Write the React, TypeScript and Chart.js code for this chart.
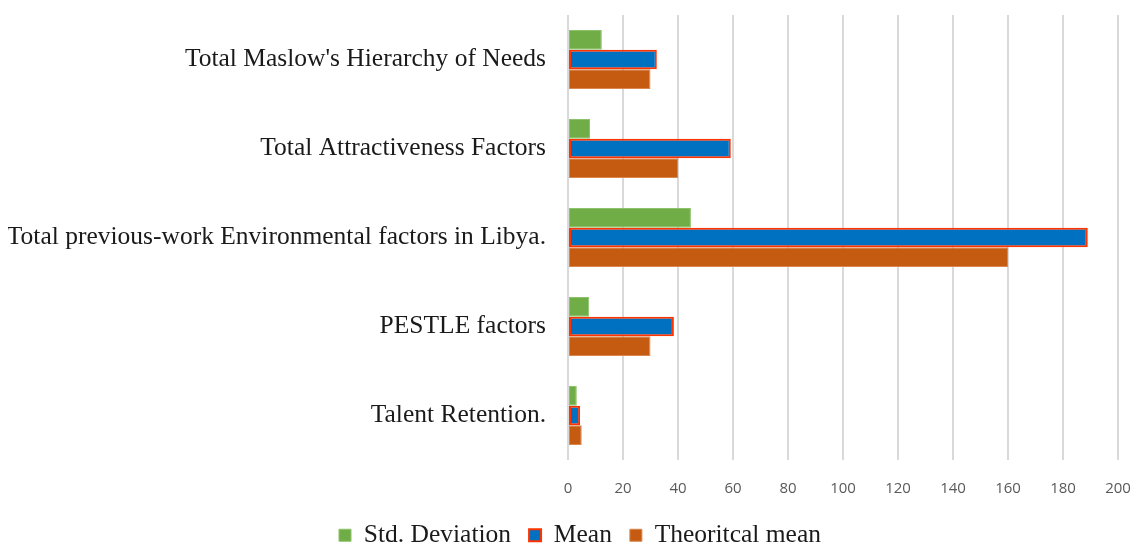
import React, { useEffect, useRef } from "react";
import { Chart, registerables } from "chart.js";

Chart.register(...registerables);

const categories = [
  "Total Maslow's Hierarchy of Needs",
  "Total Attractiveness Factors",
  "Total previous-work Environmental factors in Libya.",
  "PESTLE factors",
  "Talent Retention.",
];
const stdDeviation = [12.3, 8, 44.7, 7.7, 3.2];
const meanValues = [32.3, 59.2, 189, 38.5, 4.4];
const theoreticalMean = [30, 40, 160, 30, 5];
const xTicks = [0, 20, 40, 60, 80, 100, 120, 140, 160, 180, 200];

const shiftLegend = {
  id: "shiftLegend",
  afterLayout(chart: any) {
    if (chart.legend) chart.legend.left += 34;
  },
};

export default function App() {
  const ref = useRef<HTMLCanvasElement>(null);
  useEffect(() => {
    if (!ref.current) return;
    const chart = new Chart(ref.current, {
      type: "bar",
      data: {
        labels: categories,
        datasets: [
          {
            label: "Std. Deviation",
            data: stdDeviation,
            backgroundColor: "#70AD47",
            borderColor: "#8CC26A",
            borderWidth: 1,
          },
          {
            label: "Mean",
            data: meanValues,
            backgroundColor: "#0070C0",
            borderColor: "#FF3300",
            borderWidth: 2,
          },
          {
            label: "Theoritcal mean",
            data: theoreticalMean,
            backgroundColor: "#C55A11",
            borderColor: "#D9874F",
            borderWidth: 1,
          },
        ],
      },
      plugins: [shiftLegend],
      options: {
        indexAxis: "y",
        responsive: false,
        animation: false,
        devicePixelRatio: 1,
        layout: { padding: { top: 7, right: 15, left: 0, bottom: 0 } },
        datasets: {
          bar: { categoryPercentage: 0.665, barPercentage: 1, borderSkipped: false },
        },
        plugins: {
          tooltip: { enabled: false },
          legend: {
            position: "bottom",
            labels: {
              font: { family: "Liberation Serif", size: 25.5 },
              color: "#1a1a1a",
              boxWidth: 12,
              boxHeight: 12,
              padding: 18,
            },
          },
        },
        scales: {
          x: {
            min: 0,
            max: 200,
            afterBuildTicks: (scale: any) => {
              scale.ticks = xTicks.map((v) => ({ value: v }));
            },
            afterFit: (scale: any) => {
              scale.height = 44.5;
              scale.paddingLeft = 0;
              scale.paddingRight = 0;
              scale.paddingTop = 0;
              scale.paddingBottom = 0;
            },
            grid: { color: "#D9D9D9", lineWidth: 2, drawTicks: false },
            border: { display: false },
            ticks: {
              padding: 20,
              color: "#595959",
              font: { family: "Open Sans", size: 15 },
            },
          },
          y: {
            afterFit: (scale: any) => {
              scale.width = 560;
              scale.paddingLeft = 0;
              scale.paddingRight = 0;
              scale.paddingTop = 0;
              scale.paddingBottom = 0;
            },
            grid: { display: false, drawTicks: false },
            border: { display: false },
            ticks: {
              padding: 22,
              color: "#1a1a1a",
              font: { family: "Liberation Serif", size: 25.5 },
            },
          },
        },
      },
    });
    return () => chart.destroy();
  }, []);
  return (
    <div style={{ width: 1125, height: 540, overflow: "hidden" }}>
      <canvas ref={ref} width={1125} height={550} />
    </div>
  );
}
